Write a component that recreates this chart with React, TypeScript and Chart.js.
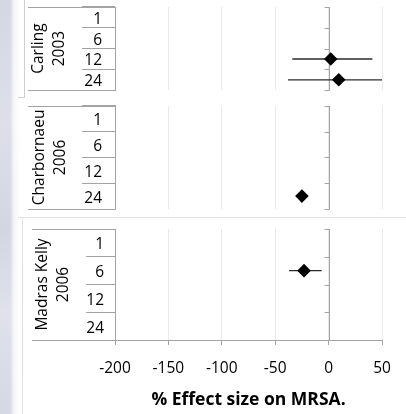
import React, { useEffect, useRef } from "react";
import { Chart, registerables } from "chart.js";

Chart.register(...registerables);

// ---- data ----
const rowLabels = ["1", "6", "12", "24"];
const xMin = -200;
const xMax = 50;
const xStep = 50;
const xTitle = "% Effect size on MRSA.";

const studyNames = ["Carling", "Charbornaeu", "Madras Kelly"];
const studyYears = ["2003", "2006", "2006"];

const carlingEffect = [null, null, 2, 9.5];
const carlingLow = [null, null, -34, -38];
const carlingHigh = [null, null, 41, 56];

const charbornaeuEffect = [null, null, null, -25];
const charbornaeuLow = [null, null, null, null];
const charbornaeuHigh = [null, null, null, null];

const madrasEffect = [null, -23, null, null];
const madrasLow = [null, -37, null, null];
const madrasHigh = [null, -6.5, null, null];

// ---- layout / style ----
const FONT = "'Open Sans', 'Noto Sans', sans-serif";
const TEXT = "#000000";
const AXIS = "#a3a3a3";
const GRID = "#e9e9e9";
const W = 406;
const PLOT_LEFT = 115;
const PLOT_RIGHT = 382;

type PanelDef = {
  name: string;
  year: string;
  effect: (number | null)[];
  low: (number | null)[];
  high: (number | null)[];
  top: number;
  height: number;
  padTop: number;
  padBottom: number;
  titlePad: number;
  groupLineX: number;
  tickLen: number;
  tickPad: number;
  showX: boolean;
  xAxisHeight: number;
};

const panels: PanelDef[] = [
  {
    name: studyNames[0], year: studyYears[0],
    effect: carlingEffect, low: carlingLow, high: carlingHigh,
    top: 0, height: 97, padTop: 7, padBottom: 3,
    titlePad: 28.5, groupLineX: 28, tickLen: 33, tickPad: -20,
    showX: false, xAxisHeight: 0,
  },
  {
    name: studyNames[1], year: studyYears[1],
    effect: charbornaeuEffect, low: charbornaeuLow, high: charbornaeuHigh,
    top: 99, height: 118, padTop: 4, padBottom: 8,
    titlePad: 29.5, groupLineX: 28, tickLen: 33, tickPad: -20,
    showX: false, xAxisHeight: 0,
  },
  {
    name: studyNames[2], year: studyYears[2],
    effect: madrasEffect, low: madrasLow, high: madrasHigh,
    top: 218, height: 196, padTop: 11, padBottom: 0,
    titlePad: 32.5, groupLineX: 32, tickLen: 29, tickPad: -18,
    showX: true, xAxisHeight: 74,
  },
];

function makeDecor(p: PanelDef) {
  return {
    id: "panelDecor",
    beforeDatasetsDraw(chart: any) {
      const { ctx, chartArea: a, scales } = chart;
      const x = scales.x;
      const y = scales.y;
      ctx.save();
      ctx.strokeStyle = AXIS;
      ctx.lineWidth = 1;
      ctx.beginPath();
      const top = Math.round(a.top) + 0.5;
      const bot = Math.round(a.bottom) + 0.5;
      // outer group lines (top & bottom) spanning label area
      ctx.moveTo(p.groupLineX, top);
      ctx.lineTo(a.left, top);
      ctx.moveTo(p.groupLineX, bot);
      ctx.lineTo(a.left, bot);
      // vertical axis crossing at 0 with tick marks on row boundaries
      const x0 = Math.round(x.getPixelForValue(0)) + 0.5;
      ctx.moveTo(x0, a.top);
      ctx.lineTo(x0, a.bottom);
      const c0 = y.getPixelForValue(0);
      const band = y.getPixelForValue(1) - c0;
      for (let i = 0; i <= rowLabels.length; i++) {
        const yy = Math.round(c0 - band / 2 + i * band) + 0.5;
        ctx.moveTo(x0 - 5, yy);
        ctx.lineTo(x0, yy);
      }
      ctx.stroke();

      // error bars
      ctx.beginPath();
      ctx.rect(a.left, a.top, a.right - a.left, a.bottom - a.top);
      ctx.clip();
      ctx.strokeStyle = "#2b2b2b";
      ctx.lineWidth = 1.3;
      ctx.beginPath();
      rowLabels.forEach((_, i) => {
        const lo = p.low[i];
        const hi = p.high[i];
        if (lo == null || hi == null) return;
        const yy = y.getPixelForValue(i);
        ctx.moveTo(x.getPixelForValue(lo), yy);
        ctx.lineTo(x.getPixelForValue(hi), yy);
      });
      ctx.stroke();
      ctx.restore();
    },
  };
}

function Panel({ p }: { p: PanelDef }) {
  const ref = useRef<HTMLCanvasElement>(null);
  useEffect(() => {
    const pts = rowLabels
      .map((r, i) => (p.effect[i] == null ? null : { x: p.effect[i] as number, y: r }))
      .filter((d) => d !== null);
    const chart = new Chart(ref.current as HTMLCanvasElement, {
      type: "scatter",
      data: {
        datasets: [
          {
            data: pts as any,
            pointStyle: "rectRot",
            pointRadius: 6.8,
            pointHoverRadius: 6.8,
            backgroundColor: "#000000",
            borderColor: "#000000",
            borderWidth: 0,
          },
        ],
      },
      options: {
        responsive: false,
        animation: false,
        events: [],
        layout: {
          padding: { left: 0, right: W - PLOT_RIGHT, top: p.padTop, bottom: p.padBottom },
        },
        plugins: {
          legend: { display: false },
          tooltip: { enabled: false },
        },
        scales: {
          x: {
            type: "linear",
            position: "bottom",
            min: xMin,
            max: xMax,
            ticks: {
              stepSize: xStep,
              display: p.showX,
              font: { family: FONT, size: 15.5 },
              color: TEXT,
              padding: 14,
            },
            grid: {
              color: GRID,
              drawTicks: p.showX,
              tickLength: 5,
              tickColor: AXIS,
            },
            border: { display: p.showX, color: AXIS },
            title: {
              display: p.showX,
              text: xTitle,
              color: TEXT,
              font: { family: FONT, size: 17.5, weight: "bold" },
              padding: { top: 0, bottom: 3 },
            },
            afterFit: (s: any) => {
              s.height = p.xAxisHeight;
            },
          },
          y: {
            type: "category",
            labels: rowLabels,
            position: "left",
            offset: true,
            ticks: {
              font: { family: FONT, size: 15.5 },
              color: TEXT,
              padding: p.tickPad,
              labelOffset: 2,
              autoSkip: false,
            },
            grid: {
              offset: true,
              drawOnChartArea: false,
              drawTicks: true,
              tickLength: p.tickLen,
              color: AXIS,
            },
            border: { display: true, color: AXIS },
            title: {
              display: true,
              text: [p.name, p.year],
              color: TEXT,
              font: { family: FONT, size: 15.5, lineHeight: 1.35 },
              padding: { top: p.titlePad, bottom: 0 },
            },
            afterFit: (s: any) => {
              s.width = PLOT_LEFT;
            },
          },
        },
      } as any,
      plugins: [makeDecor(p)],
    });
    return () => chart.destroy();
  }, [p]);
  return (
    <canvas
      ref={ref}
      width={W}
      height={p.height}
      style={{ position: "absolute", left: 0, top: p.top, width: W, height: p.height }}
    />
  );
}

export default function App() {
  const line = (s: React.CSSProperties) => (
    <div style={{ position: "absolute", background: "#cfcfcf", ...s }} />
  );
  return (
    <div
      style={{
        position: "fixed",
        left: 0,
        top: 0,
        width: W,
        height: 414,
        background: "#ffffff",
        overflow: "hidden",
      }}
    >
      <div
        style={{
          position: "absolute",
          left: 0,
          top: 0,
          width: 20,
          height: 414,
          background:
            "linear-gradient(to right, rgba(255,255,255,0) 0px, rgba(255,255,255,0) 10px, rgba(255,255,255,0.75) 14px, #ffffff 20px), linear-gradient(165deg, #d3d7e1 0%, #dde0e8 30%, #d2d6e0 55%, #dfe2ea 75%, #d4d8e2 100%)",
        }}
      />
      {line({ left: 24, top: 0, width: 1, height: 97 })}
      {line({ left: 18, top: 97, width: 7, height: 1 })}
      {line({ left: 18, top: 217, width: W - 18, height: 1, background: "#e3e3e3" })}
      {line({ left: 22, top: 218, width: 1, height: 196, background: "#e0e0e0" })}
      {panels.map((p, i) => (
        <Panel key={i} p={p} />
      ))}
    </div>
  );
}
